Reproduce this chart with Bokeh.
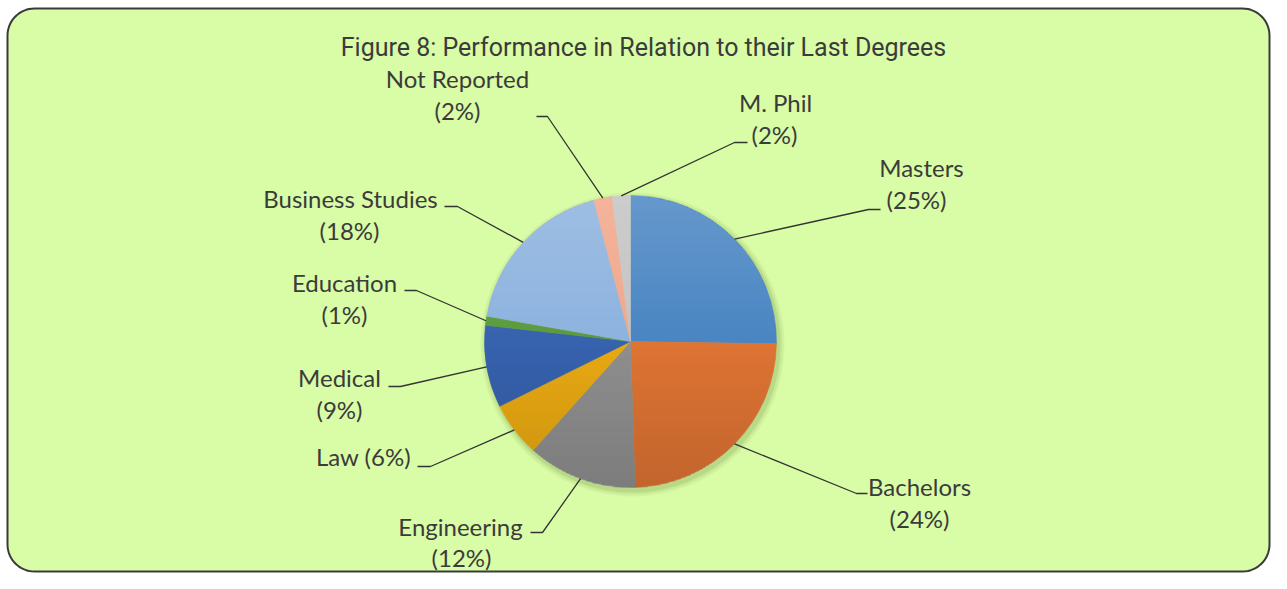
import numpy as np
from bokeh.plotting import figure
from bokeh.models import Range1d, ColumnDataSource
from bokeh.core.properties import value
from bokeh.embed import file_html
from bokeh.resources import INLINE

# ---------------- data ----------------
categories = ["Masters", "Bachelors", "Engineering", "Law", "Medical",
              "Education", "Business Studies", "Not Reported", "M. Phil"]
percents = [25, 24, 12, 6, 9, 1, 18, 2, 2]
colors = ["#4a86c3", "#df7434", "#8f8f8f", "#e9a912", "#3762ae",
          "#5b9b3d", "#8db3df", "#f2a78b", "#c4c4c4"]
title_text = "Figure 8: Performance in Relation to their Last Degrees"

# ---------------- layout (canvas pixel coordinates, y downwards) ----------------
W, H = 1271, 573
CX, CY, R = 630, 341, 146                     # pie centre / radius
label_x = [921, 919, 460, 363, 339, 344, 350, 457, 775]
label2_x = [916, 919, 461, 363, 339, 344, 349, 457, 774]
label_y = [167, 486, 526, 456, 377, 282, 198, 78, 102]   # first-line baseline
one_line = [False, False, False, True, False, False, False, False, False]
elbow_x = [868, 856, 542, 430, 400, 416, 457, 547, 734]
elbow_y = [209, 493, 532, 466, 386, 290, 206, 116, 142]
tick_dx = [12, 11, -12, -13, -12, -12, -13, -11, 13]
line_gap = [32, 32, 31, 0, 32, 32, 32, 32, 32]


def py(y):
    return H - y            # canvas y (downwards) -> data y


p = figure(width=W, height=H, output_backend="svg", toolbar_location=None,
           x_range=Range1d(0, W), y_range=Range1d(0, H),
           min_border=0, border_fill_color="white", background_fill_color="white")
p.axis.visible = False
p.grid.visible = False
p.outline_line_color = None

# rounded panel
x0, x1, y0, y1, rr = 7, 1269, 8, 571, 27
t = np.linspace(0, np.pi / 2, 16)
xs = np.concatenate([x1 - rr + rr * np.cos(t), x0 + rr - rr * np.sin(t),
                     x0 + rr - rr * np.cos(t), x1 - rr + rr * np.sin(t)])
ys = np.concatenate([y0 + rr - rr * np.sin(t), y0 + rr - rr * np.cos(t),
                     y1 - rr + rr * np.sin(t), y1 - rr + rr * np.cos(t)])
p.patch(xs, py(ys), fill_color="#d9fca6", line_color="#3a3a3a", line_width=2)

# soft shadow behind pie
for dr, a in [(6, 0.06), (4, 0.08), (2, 0.12)]:
    p.circle(x=[CX + 2], y=[py(CY + 3)], radius=R + dr, fill_color="#4f6e2a",
             fill_alpha=a, line_color=None)

# pie wedges, clockwise from 12 o'clock
vals = np.array(percents, dtype=float)
frac = vals / vals.sum()
cum = np.concatenate([[0], np.cumsum(frac)])
start = np.pi / 2 - 2 * np.pi * cum[1:]
end = np.pi / 2 - 2 * np.pi * cum[:-1]
src = ColumnDataSource(dict(start=start, end=end, color=colors))
p.wedge(x=CX, y=py(CY), radius=R, start_angle="start", end_angle="end",
        fill_color="color", line_color="color", line_width=0.5, source=src)

# vertical shading overlay (lighter top, darker bottom)
band = 2.0
yc = np.arange(CY - R + band / 2, CY + R, band)
half = np.sqrt(np.clip(R ** 2 - (yc - CY) ** 2, 0, None))
tt_ = (yc - (CY - R)) / (2 * R)
shade_col = ["white" if v < 0.5 else "black" for v in tt_]
shade_alpha = np.where(tt_ < 0.5, 0.16 * (1 - 2 * tt_), 0.13 * (2 * tt_ - 1))
p.hbar(y=py(yc), left=CX - half, right=CX + half, height=band,
       fill_color=shade_col, fill_alpha=shade_alpha, line_color=None)

# leader lines (from slice mid-angle to label)
mid = (cum[:-1] + cum[1:]) / 2
for i in range(len(categories)):
    ang = 2 * np.pi * mid[i]
    ex = CX + R * np.sin(ang)
    ey = CY - R * np.cos(ang)
    lx = [ex, elbow_x[i], elbow_x[i] + tick_dx[i]]
    ly = [ey, elbow_y[i], elbow_y[i]]
    p.line(lx, [py(v) for v in ly], line_color="#333333", line_width=1.3)

# labels
tx, ty, tt = [], [], []
for i, name in enumerate(categories):
    pct = f"({percents[i]}%)"
    if one_line[i]:
        tx.append(label_x[i]); ty.append(py(label_y[i])); tt.append(f"{name} {pct}")
    else:
        tx.append(label_x[i]); ty.append(py(label_y[i])); tt.append(name)
        tx.append(label2_x[i]); ty.append(py(label_y[i] + line_gap[i])); tt.append(pct)
p.text(x=tx, y=ty, text=tt, text_font=value("Lato"), text_font_size="24px",
       text_color="#3b3b3b", text_align="center", text_baseline="alphabetic")

# title
p.text(x=[643], y=[py(47)], text=[title_text],
       text_font=value("Roboto"), text_font_size="25px",
       text_color="#3b3b3b", text_align="center", text_baseline="alphabetic")

open("out.html", "w").write(file_html(p, INLINE))
